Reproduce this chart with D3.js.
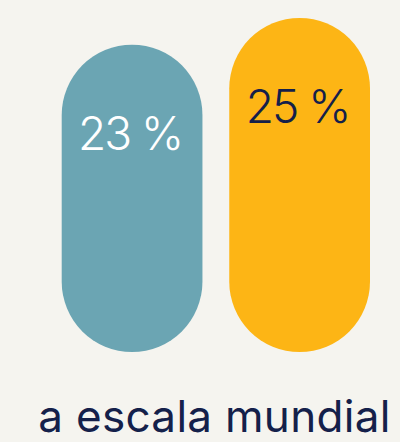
<!DOCTYPE html>
<html><head><meta charset="utf-8">
<script src="https://cdn.jsdelivr.net/npm/d3@7"></script>
<style>html,body{margin:0;padding:0;background:#f5f4ef;}svg{display:block;}</style>
</head><body>
<script>
const categories = ["A", "B"];
const values = [23, 25];
const labels = ["23 %", "25 %"];
const colors = ["#6ba5b3", "#fdb515"];
const labelColors = ["#ffffff", "#14204a"];
const caption = "a escala mundial";

const W = 400, H = 442;
const svg = d3.select("body").append("svg").attr("width", W).attr("height", H);
svg.append("rect").attr("width", W).attr("height", H).attr("fill", "#f5f4ef");

const x = d3.scaleBand().domain(categories).range([61.7, 370]).paddingInner(0.16).paddingOuter(0);
const y = d3.scaleLinear().domain([0, 25]).range([352, 18]);
const bw = x.bandwidth();

const g = svg.append("g");
g.selectAll("rect.bar").data(categories).join("rect")
  .attr("class", "bar")
  .attr("x", d => x(d))
  .attr("y", (d, i) => y(values[i]))
  .attr("width", bw)
  .attr("height", (d, i) => y(0) - y(values[i]))
  .attr("rx", bw / 2).attr("ry", bw / 2)
  .attr("fill", (d, i) => colors[i]);

g.selectAll("text.lbl").data(categories).join("text")
  .attr("class", "lbl")
  .attr("x", d => x(d) + bw / 2 - 2)
  .attr("y", (d, i) => y(values[i]) + 105)
  .attr("text-anchor", "middle")
  .attr("font-family", "Inter, 'Noto Sans', sans-serif")
  .attr("font-weight", 300)
  .attr("font-size", 46)
  .attr("letter-spacing", -2)
  .attr("fill", (d, i) => labelColors[i])
  .text((d, i) => labels[i]);

svg.append("text")
  .attr("x", 214.5).attr("y", 432)
  .attr("text-anchor", "middle")
  .attr("font-family", "Inter, 'Noto Sans', sans-serif")
  .attr("font-weight", 400)
  .attr("font-size", 44)
  .attr("letter-spacing", 0.3)
  .attr("fill", "#14204a")
  .text(caption);
</script>
</body></html>
